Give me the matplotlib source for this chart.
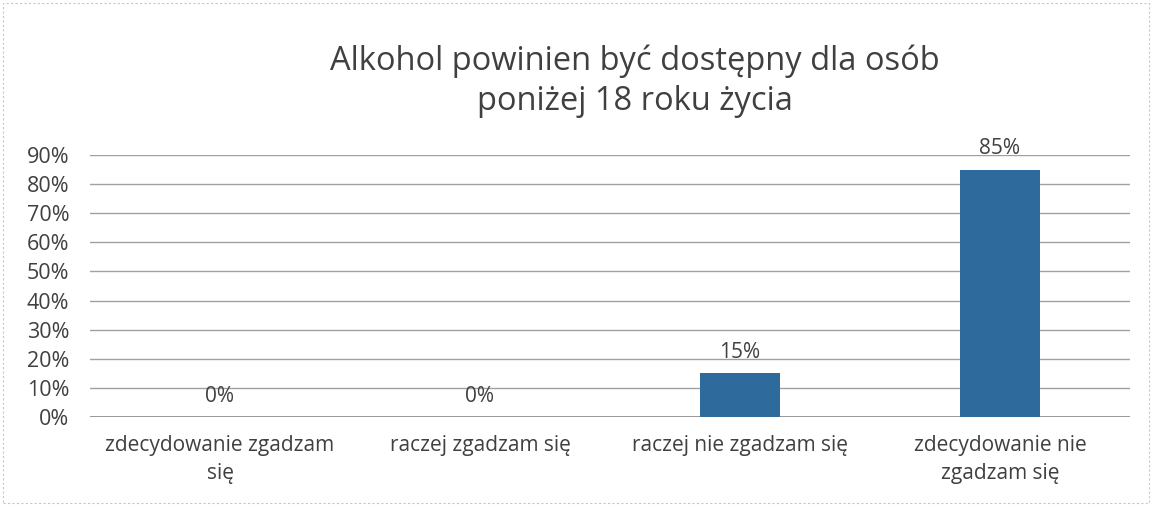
import matplotlib
matplotlib.use("Agg")
import matplotlib.pyplot as plt
from matplotlib.ticker import PercentFormatter
from matplotlib.patches import Rectangle

categories = ["zdecydowanie zgadzam\nsię", "raczej zgadzam się", "raczej nie zgadzam się", "zdecydowanie nie\nzgadzam się"]
values = [0, 0, 15, 85]
yticks = [0, 10, 20, 30, 40, 50, 60, 70, 80, 90]
title = "Alkohol powinien być dostępny dla osób\nponiżej 18 roku życia"

plt.rcParams['font.family'] = ['Open Sans', 'DejaVu Sans']
txt = '#404040'

fig = plt.figure(figsize=(11.52, 5.05), dpi=100)
ax = fig.add_axes([90/1152, 1 - 417/505, 1040/1152, (417-155)/505])
x = list(range(len(categories)))
bars = ax.bar(x, values, width=0.31, color='#2f6a9c', zorder=3)
for xi, v in zip(x, values):
    ax.text(xi, v + 3.5, f"{v}%", ha='center', va='bottom', fontsize=15, color=txt)
ax.set_xlim(-0.5, 3.5)
ax.set_ylim(0, 90)
ax.set_yticks(yticks)
ax.yaxis.set_major_formatter(PercentFormatter(decimals=0))
ax.set_xticks(x)
ax.set_xticklabels(categories, fontsize=15, color=txt, linespacing=1.45)
ax.tick_params(axis='y', labelsize=15.5, labelcolor=txt, length=0, pad=15)
ax.tick_params(axis='x', length=0, pad=13)
ax.grid(axis='y', color='#a0a0a0', linewidth=1.0, zorder=0)
for s in ax.spines.values():
    s.set_visible(False)
ax.axhline(0, color='#8a8a8a', linewidth=1.2, zorder=2)
fig.text(635/1152, 1 - 81/505, title, ha='center', va='center', fontsize=23.5, color=txt, linespacing=1.3)
fig.patches.append(Rectangle((0.003, 0.004), 0.994, 0.99, transform=fig.transFigure, fill=False,
                             edgecolor='#c8c8c8', linewidth=0.8, linestyle=(0, (2, 2))))
fig.savefig("out.png", dpi=100)
